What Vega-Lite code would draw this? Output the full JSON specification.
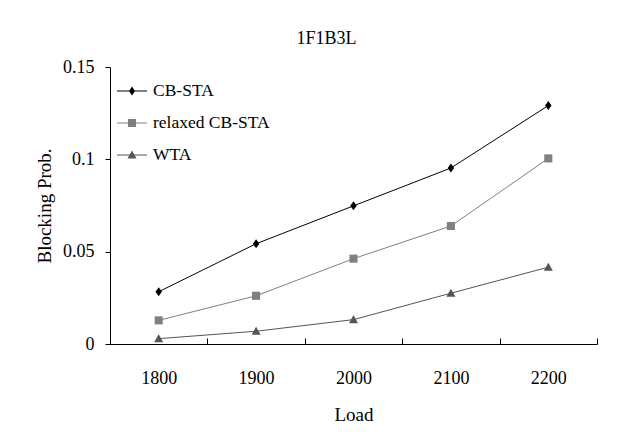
{
  "$schema": "https://vega.github.io/schema/vega-lite/v6.json",
  "autosize": "none",
  "width": 487,
  "height": 277,
  "padding": {"left": 110, "top": 67, "right": 43, "bottom": 97},
  "background": "white",
  "title": {"text": "1F1B3L", "font": "Liberation Serif", "fontSize": 18, "fontWeight": "normal", "color": "black", "dx": -27, "offset": 10},
  "data": {"values": [
    {"load": 1800, "series": "CB-STA", "value": 0.0283},
    {"load": 1900, "series": "CB-STA", "value": 0.0543},
    {"load": 2000, "series": "CB-STA", "value": 0.0748},
    {"load": 2100, "series": "CB-STA", "value": 0.0953},
    {"load": 2200, "series": "CB-STA", "value": 0.1291},
    {"load": 1800, "series": "relaxed CB-STA", "value": 0.0128},
    {"load": 1900, "series": "relaxed CB-STA", "value": 0.0261},
    {"load": 2000, "series": "relaxed CB-STA", "value": 0.0462},
    {"load": 2100, "series": "relaxed CB-STA", "value": 0.0639},
    {"load": 2200, "series": "relaxed CB-STA", "value": 0.1005},
    {"load": 1800, "series": "WTA", "value": 0.0029},
    {"load": 1900, "series": "WTA", "value": 0.0069},
    {"load": 2000, "series": "WTA", "value": 0.0132},
    {"load": 2100, "series": "WTA", "value": 0.0275},
    {"load": 2200, "series": "WTA", "value": 0.0416}
  ]},
  "encoding": {
    "x": {"field": "load", "type": "ordinal", "bandPosition": 0.5,
      "scale": {"type": "band", "paddingInner": 0, "paddingOuter": 0},
      "axis": {"title": "Load", "labelAngle": 0, "tickBand": "extent", "tickSize": -6, "labelPadding": 31, "titlePadding": 18, "grid": false}},
    "y": {"field": "value", "type": "quantitative",
      "scale": {"domain": [0, 0.15], "nice": false},
      "axis": {"title": "Blocking Prob.", "values": [0, 0.05, 0.1, 0.15], "labelExpr": "'' + datum.value", "tickSize": 5, "labelPadding": 11, "titlePadding": 8, "grid": false}}
  },
  "layer": [
    {"mark": {"type": "line", "strokeWidth": 1},
     "encoding": {"color": {"field": "series", "type": "nominal",
       "scale": {"domain": ["CB-STA", "relaxed CB-STA", "WTA"], "range": ["#000000", "#808080", "#555555"]}, "legend": null}}},
    {"mark": {"type": "point", "filled": true, "opacity": 1, "size": 81},
     "encoding": {
       "color": {"field": "series", "type": "nominal", "legend": null,
         "scale": {"domain": ["CB-STA", "relaxed CB-STA", "WTA"], "range": ["#000000", "#808080", "#555555"]}},
       "shape": {"field": "series", "type": "nominal", "legend": null,
         "scale": {"domain": ["CB-STA", "relaxed CB-STA", "WTA"], "range": ["M0,-1L0.72,0L0,1L-0.72,0Z", "M-0.9,-0.9H0.9V0.9H-0.9Z", "M0,-1L1,0.8H-1Z"]}}}},
    {"mark": {"type": "point", "filled": true, "opacity": 0, "size": 1},
     "encoding": {
       "color": {"field": "series", "type": "nominal",
         "scale": {"domain": ["CB-STA", "relaxed CB-STA", "WTA"], "range": ["#000000", "#808080", "#555555"]},
         "legend": {"title": null, "orient": "none", "legendX": 7, "legendY": 9, "padding": 0, "symbolSize": 900, "symbolOpacity": 1, "symbolStrokeWidth": 0, "rowPadding": 8, "labelOffset": 6, "labelFont": "Liberation Serif", "labelFontSize": 17.5, "labelColor": "black"}},
       "shape": {"field": "series", "type": "nominal",
         "scale": {"domain": ["CB-STA", "relaxed CB-STA", "WTA"], "range": [
           "M-1,-0.035H1V0.035H-1ZM0,-0.3L0.2,0L0,0.3L-0.2,0Z",
           "M-1,-0.035H1V0.035H-1ZM-0.27,-0.27H0.27V0.27H-0.27Z",
           "M-1,-0.035H1V0.035H-1ZM0,-0.3L0.3,0.24H-0.3Z"]},
         "legend": {"title": null, "orient": "none", "legendX": 7, "legendY": 9, "padding": 0, "symbolSize": 900, "symbolOpacity": 1, "symbolStrokeWidth": 0, "rowPadding": 8, "labelOffset": 6, "labelFont": "Liberation Serif", "labelFontSize": 17.5, "labelColor": "black"}}}}
  ],
  "resolve": {"scale": {"shape": "independent", "color": "independent"}},
  "config": {
    "view": {"stroke": null},
    "font": "Liberation Serif",
    "axis": {"labelFont": "Liberation Serif", "labelFontSize": 18, "labelColor": "black", "titleFont": "Liberation Serif", "titleFontSize": 19, "titleFontWeight": "normal", "titleColor": "black", "domainColor": "black", "tickColor": "black", "domainWidth": 1, "tickWidth": 1}
  }
}
